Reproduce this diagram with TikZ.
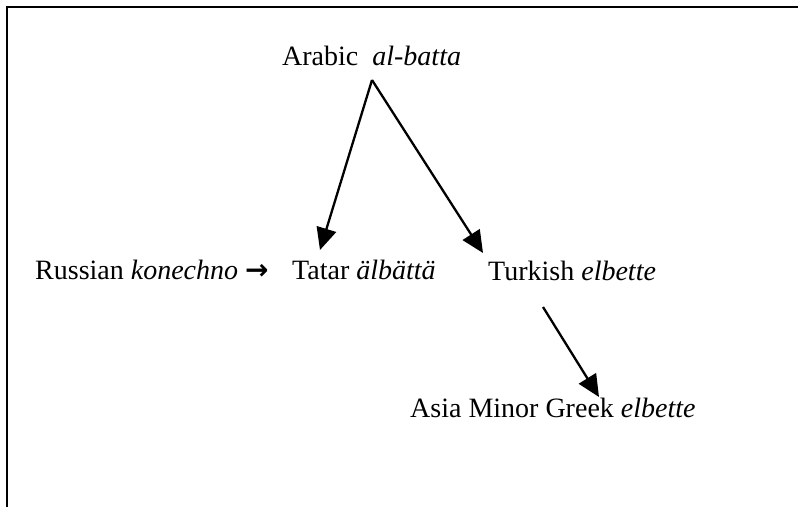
\documentclass[tikz,border=0pt]{standalone}
\usepackage{fontspec}
\setmainfont{Liberation Serif}
\newfontfamily\symfont{DejaVu Sans}
\usetikzlibrary{arrows.meta,calc}
\tikzset{
  lbl/.style={anchor=base west, inner sep=0pt, font=\fontsize{28}{31}\selectfont},
  conn/.style={line width=2.3pt, -{Triangle[length=22pt,width=20pt]}},
  frame/.style={line width=2.6pt}
}
\begin{document}
\begin{tikzpicture}[x=1pt,y=-1pt]
\useasboundingbox (0,0) rectangle (798,507);
\fill[white] (0,0) rectangle (798,507);
\draw[frame] (7,507) -- (7,7) -- (798,7);
\node[lbl] (arabic) at (282,65) {Arabic\ \ \textit{al-batta}};
\node[lbl] (russian) at (35,279) {Russian \textit{konechno} {\symfont\bfseries\fontsize{28}{30}\selectfont →}};
\node[lbl] (tatar) at (292,279) {Tatar \textit{älbättä}};
\node[lbl] (turkish) at (488,280) {Turkish \textit{elbette}};
\node[lbl] (asia) at (410,417) {Asia Minor Greek \textit{elbette}};
\coordinate (apex) at ($(arabic.base west)+(90,15)$);
\draw[conn] (apex) -- ($(tatar.base west)+(28,-29)$);
\draw[conn] (apex) -- ($(turkish.base west)+(-5,-27)$);
\draw[conn] ($(turkish.base west)+(55,27)$) -- ($(asia.base west)+(189,-20)$);
\end{tikzpicture}
\end{document}
